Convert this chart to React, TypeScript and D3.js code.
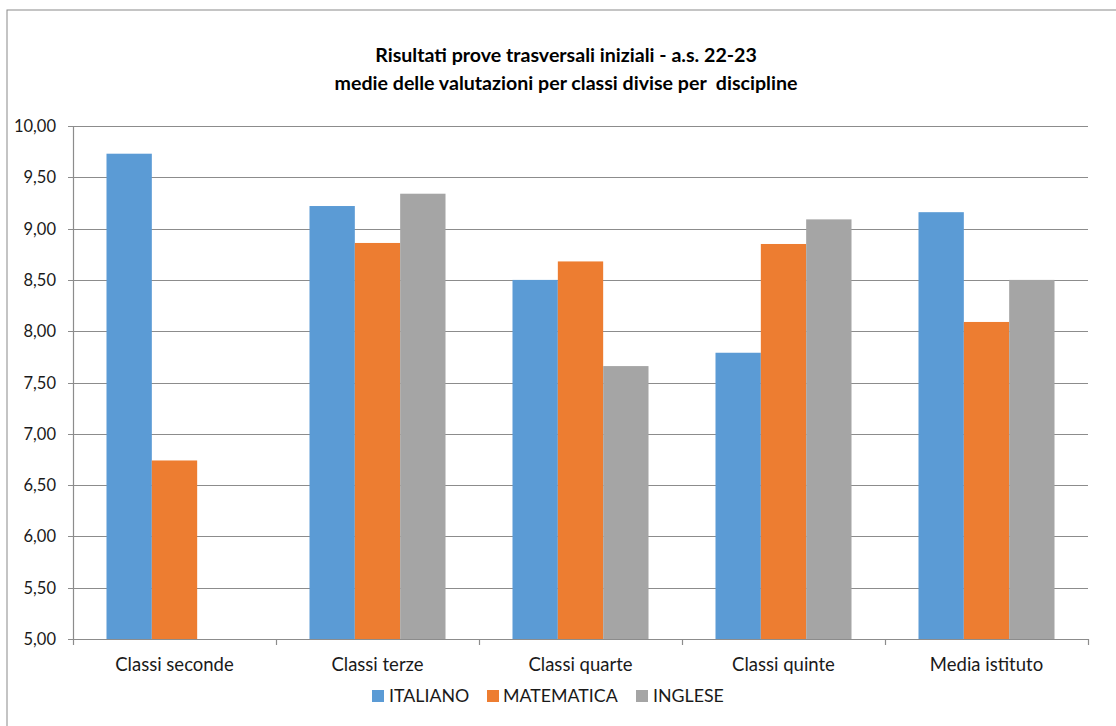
import React from "react";
import * as d3 from "d3";

const categories = ["Classi seconde", "Classi terze", "Classi quarte", "Classi quinte", "Media istituto"];
const seriesNames = ["ITALIANO", "MATEMATICA", "INGLESE"];
const italiano = [9.73, 9.22, 8.5, 7.79, 9.16];
const matematica = [6.74, 8.86, 8.68, 8.85, 8.09];
const inglese = [null, 9.34, 7.66, 9.09, 8.5];
const yTicks = [5, 5.5, 6, 6.5, 7, 7.5, 8, 8.5, 9, 9.5, 10];
const titleLines = [
  "Risultati prove trasversali iniziali - a.s. 22-23",
  "medie delle valutazioni per classi divise per  discipline",
];
const colors = ["#5B9BD5", "#ED7D31", "#A5A5A5"];

const W = 1116;
const H = 726;
const plot = { left: 73, right: 1088, top: 126, bottom: 639 };
const FONT = "Lato, 'Open Sans', sans-serif";

export default function App() {
  const series = [italiano, matematica, inglese];
  const x0 = d3
    .scaleBand<string>()
    .domain(categories)
    .range([plot.left, plot.right])
    .paddingInner(0.33)
    .paddingOuter(0.165);
  const x1 = d3
    .scaleBand<string>()
    .domain(seriesNames)
    .range([0, x0.bandwidth()]);
  const y = d3.scaleLinear().domain([5, 10]).range([plot.bottom, plot.top]);
  const step = (plot.right - plot.left) / categories.length;
  const fmt = (v: number) => d3.format(".2f")(v).replace(".", ",");

  const legendItems = [
    { name: seriesNames[0], sx: 372, tx: 389 },
    { name: seriesNames[1], sx: 487, tx: 503 },
    { name: seriesNames[2], sx: 636, tx: 653 },
  ];

  return (
    <svg
      width={W}
      height={H}
      style={{ position: "absolute", left: 0, top: 0, background: "#fff" }}
    >
      <rect x={7} y={10} width={W + 20} height={H + 20} fill="#fff" stroke="#898989" strokeWidth={1} />
      {titleLines.map((t, i) => (
        <text
          key={i}
          x={566}
          y={62 + i * 28}
          textAnchor="middle"
          fontFamily={FONT}
          fontWeight="bold"
          fontSize={19.6}
          fill="#000"
          style={{ whiteSpace: "pre" }}
        >
          {t}
        </text>
      ))}
      {yTicks.map((v) => (
        <g key={v}>
          <line
            x1={plot.left - 5}
            x2={plot.right}
            y1={Math.round(y(v)) + 0.5}
            y2={Math.round(y(v)) + 0.5}
            stroke="#8c8c8c"
            strokeWidth={1.2}
          />
          <text
            x={56}
            y={y(v) + 6}
            textAnchor="end"
            fontFamily={FONT}
            fontSize={16.5}
            fill="#1a1a1a"
          >
            {fmt(v)}
          </text>
        </g>
      ))}
      <line x1={plot.left + 0.5} x2={plot.left + 0.5} y1={plot.top} y2={plot.bottom} stroke="#8c8c8c" strokeWidth={1.2} />
      {categories.map((c, i) =>
        series.map((s, j) => {
          const v = s[i];
          if (v == null) return null;
          return (
            <rect
              key={c + j}
              x={(x0(c) as number) + (x1(seriesNames[j]) as number)}
              y={y(v)}
              width={x1.bandwidth()}
              height={y(5) - y(v)}
              fill={colors[j]}
            />
          );
        })
      )}
      {d3.range(categories.length + 1).map((i) => (
        <line
          key={i}
          x1={plot.left + i * step + 0.5}
          x2={plot.left + i * step + 0.5}
          y1={plot.bottom}
          y2={plot.bottom + 6}
          stroke="#8c8c8c"
          strokeWidth={1.2}
        />
      ))}
      {categories.map((c) => (
        <text
          key={c}
          x={(x0(c) as number) + x0.bandwidth() / 2}
          y={671}
          textAnchor="middle"
          fontFamily={FONT}
          fontSize={18.5}
          fill="#1a1a1a"
        >
          {c}
        </text>
      ))}
      {legendItems.map((l, i) => (
        <g key={l.name}>
          <rect x={l.sx} y={690} width={12} height={12} fill={colors[i]} />
          <text x={l.tx} y={702} fontFamily={FONT} fontSize={17.8} fill="#1a1a1a">
            {l.name}
          </text>
        </g>
      ))}
    </svg>
  );
}
